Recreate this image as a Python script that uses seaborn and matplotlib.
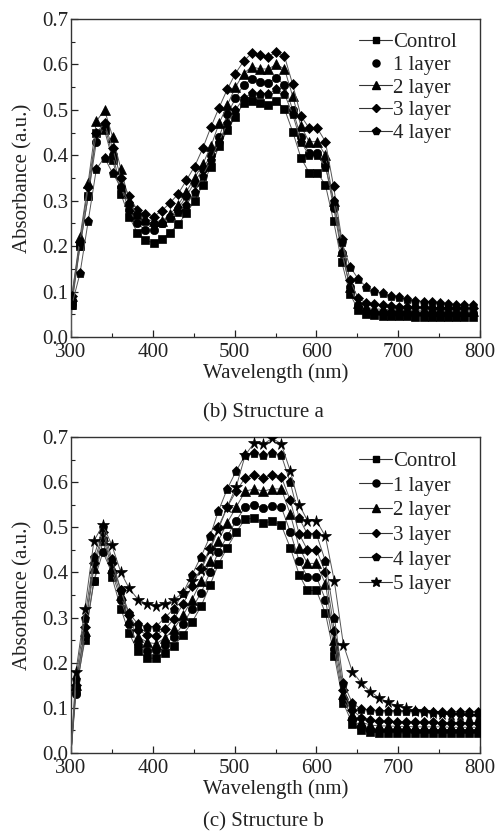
import numpy as np
import pandas as pd
import matplotlib
matplotlib.use("Agg")
import matplotlib.pyplot as plt
from matplotlib.lines import Line2D
import seaborn as sns

# ---------------- data ----------------
# Structure a (panel b) wavelengths (nm); first point is the line origin
wl_a = [300, 301, 311, 321, 331, 341, 351, 361, 371, 381, 391, 401, 411, 421, 431, 441,
        451, 461, 471, 481, 491, 501, 511, 521, 531, 541, 551, 561, 571, 581, 591,
        601, 611, 621, 631, 641, 651, 661, 671, 681, 691, 701, 711, 721, 731, 741,
        751, 761, 771, 781, 791]
a_control = [0.0, 0.07, 0.20, 0.31, 0.45, 0.455, 0.39, 0.315, 0.265, 0.23, 0.213,
             0.207, 0.215, 0.23, 0.248, 0.272, 0.30, 0.335, 0.375, 0.42, 0.455,
             0.485, 0.515, 0.52, 0.515, 0.51, 0.52, 0.502, 0.452, 0.395, 0.362,
             0.362, 0.335, 0.255, 0.165, 0.095, 0.06, 0.05,
             0.048, 0.047, 0.047, 0.046, 0.046, 0.045, 0.045, 0.045, 0.045, 0.045, 0.045, 0.045, 0.045]
a_1layer = [0.0, 0.08, 0.20, 0.31, 0.43, 0.465, 0.40, 0.33, 0.28, 0.25, 0.235,
            0.235, 0.25, 0.265, 0.282, 0.31, 0.34, 0.37, 0.40, 0.44, 0.49,
            0.525, 0.555, 0.567, 0.562, 0.56, 0.57, 0.555, 0.50, 0.44, 0.405,
            0.405, 0.38, 0.285, 0.185, 0.11, 0.07, 0.058,
            0.056, 0.055, 0.055, 0.054, 0.054, 0.053, 0.053, 0.053, 0.052, 0.052, 0.052, 0.052, 0.052]
a_2layer = [0.0, 0.09, 0.22, 0.34, 0.475, 0.50, 0.44, 0.37, 0.30, 0.27, 0.26,
            0.255, 0.255, 0.27, 0.29, 0.32, 0.35, 0.38, 0.42, 0.47, 0.51,
            0.55, 0.58, 0.595, 0.59, 0.59, 0.60, 0.59, 0.53, 0.465, 0.43,
            0.43, 0.40, 0.30, 0.19, 0.11, 0.075, 0.065,
            0.062, 0.061, 0.06, 0.06, 0.06, 0.059, 0.059, 0.059, 0.058, 0.058, 0.058, 0.058, 0.058]
a_3layer = [0.0, 0.09, 0.21, 0.33, 0.45, 0.47, 0.415, 0.35, 0.31, 0.28, 0.27,
            0.265, 0.278, 0.295, 0.315, 0.345, 0.375, 0.415, 0.462, 0.505, 0.545,
            0.58, 0.607, 0.625, 0.62, 0.617, 0.627, 0.618, 0.556, 0.487, 0.46,
            0.46, 0.43, 0.332, 0.215, 0.125, 0.085, 0.075,
            0.072, 0.07, 0.068, 0.067, 0.066, 0.065, 0.065, 0.064, 0.064, 0.064, 0.063, 0.063, 0.063]
a_4layer = [0.0, 0.07, 0.14, 0.255, 0.37, 0.395, 0.36, 0.33, 0.295, 0.27, 0.255,
            0.25, 0.252, 0.262, 0.275, 0.29, 0.32, 0.355, 0.39, 0.43, 0.47,
            0.50, 0.525, 0.537, 0.535, 0.535, 0.545, 0.535, 0.49, 0.43, 0.40,
            0.40, 0.375, 0.30, 0.21, 0.155, 0.128, 0.11,
            0.102, 0.096, 0.091, 0.087, 0.083, 0.08, 0.078, 0.076, 0.074, 0.072, 0.071, 0.07, 0.07]

# Structure b (panel c)
wl_b = [300, 306, 317, 328, 339, 350, 361, 371, 382, 393, 404, 415, 426, 437, 448, 459,
        470, 480, 491, 502, 513, 524, 535, 546, 557, 568, 579, 589, 600, 611, 622,
        633, 644, 655, 666, 677, 688, 698, 709, 720, 731, 742, 753, 764, 775, 786, 797]
b_control = [0.0, 0.14, 0.25, 0.38, 0.47, 0.39, 0.32, 0.265, 0.225, 0.21, 0.21, 0.222,
             0.237, 0.262, 0.29, 0.325, 0.372, 0.418, 0.455, 0.49, 0.518, 0.52, 0.51,
             0.513, 0.505, 0.455, 0.395, 0.36, 0.36, 0.31, 0.215, 0.11, 0.065, 0.05,
             0.046, 0.045, 0.045, 0.045, 0.044, 0.044, 0.044, 0.044, 0.044, 0.044, 0.044, 0.044, 0.044]
b_1layer = [0.0, 0.13, 0.26, 0.38, 0.445, 0.40, 0.34, 0.285, 0.24, 0.225, 0.228, 0.24,
            0.258, 0.285, 0.32, 0.355, 0.40, 0.445, 0.48, 0.515, 0.545, 0.55, 0.543,
            0.548, 0.545, 0.49, 0.425, 0.39, 0.39, 0.34, 0.23, 0.12, 0.075, 0.058,
            0.052, 0.051, 0.05, 0.05, 0.05, 0.049, 0.049, 0.049, 0.049, 0.049, 0.048, 0.048, 0.048]
b_2layer = [0.0, 0.15, 0.27, 0.41, 0.48, 0.41, 0.35, 0.295, 0.258, 0.245, 0.242, 0.255,
            0.275, 0.305, 0.34, 0.38, 0.425, 0.47, 0.51, 0.545, 0.58, 0.585, 0.58,
            0.585, 0.585, 0.53, 0.455, 0.42, 0.42, 0.375, 0.25, 0.13, 0.085, 0.068,
            0.062, 0.06, 0.06, 0.059, 0.059, 0.058, 0.058, 0.058, 0.058, 0.057, 0.057, 0.057, 0.057]
b_3layer = [0.0, 0.15, 0.28, 0.42, 0.49, 0.42, 0.36, 0.305, 0.272, 0.262, 0.26, 0.275,
            0.297, 0.33, 0.37, 0.41, 0.455, 0.50, 0.545, 0.58, 0.61, 0.615, 0.61,
            0.615, 0.612, 0.56, 0.485, 0.45, 0.45, 0.40, 0.27, 0.14, 0.095, 0.078,
            0.072, 0.07, 0.07, 0.069, 0.069, 0.068, 0.068, 0.068, 0.067, 0.067, 0.067, 0.067, 0.067]
b_4layer = [0.0, 0.165, 0.30, 0.435, 0.50, 0.43, 0.36, 0.31, 0.285, 0.28, 0.28, 0.30,
            0.32, 0.355, 0.395, 0.435, 0.48, 0.535, 0.585, 0.625, 0.66, 0.665, 0.66,
            0.665, 0.66, 0.60, 0.52, 0.485, 0.485, 0.425, 0.30, 0.155, 0.11, 0.097,
            0.095, 0.094, 0.093, 0.093, 0.092, 0.092, 0.092, 0.091, 0.091, 0.091, 0.091, 0.091, 0.091]
b_5layer = [0.0, 0.18, 0.32, 0.47, 0.505, 0.46, 0.40, 0.365, 0.34, 0.33, 0.325, 0.33,
            0.34, 0.355, 0.38, 0.405, 0.45, 0.495, 0.545, 0.59, 0.66, 0.687, 0.684,
            0.697, 0.685, 0.625, 0.55, 0.515, 0.515, 0.48, 0.38, 0.24, 0.18, 0.155,
            0.136, 0.122, 0.112, 0.105, 0.099, 0.094, 0.09, 0.088, 0.086, 0.085, 0.084, 0.083, 0.082]

labels_a = ["Control", "1 layer", "2 layer", "3 layer", "4 layer"]
labels_b = ["Control", "1 layer", "2 layer", "3 layer", "4 layer", "5 layer"]
series_a = [a_control, a_1layer, a_2layer, a_3layer, a_4layer]
series_b = [b_control, b_1layer, b_2layer, b_3layer, b_4layer, b_5layer]
x_ticks = [300, 400, 500, 600, 700, 800]
y_ticks = [0.0, 0.1, 0.2, 0.3, 0.4, 0.5, 0.6, 0.7]

markers = ["s", "o", "^", "D", "p", "*"]
msizes = [5.5, 6, 6.5, 5, 6.5, 8.5]

# ---------------- style ----------------
sns.set_theme(style="ticks")
plt.rcParams["font.family"] = ["Liberation Serif", "DejaVu Serif"]

FS = 15
fig = plt.figure(figsize=(5.01, 8.32), dpi=100)
ax_a = fig.add_axes([71 / 501, 1 - 337 / 832, 409 / 501, 318 / 832])
ax_b = fig.add_axes([71 / 501, 1 - 753 / 832, 409 / 501, 316 / 832])


def draw(ax, wl, series, labels, caption, cap_y, legend_lines, lspace, leg_y):
    for i, (vals, lab) in enumerate(zip(series, labels)):
        df = pd.DataFrame({"wl": wl, "abs": vals})
        sns.lineplot(data=df, x="wl", y="abs", ax=ax, color="#555555", lw=0.7,
                     marker=markers[i], markersize=msizes[i], markerfacecolor="black",
                     markeredgecolor="black", markeredgewidth=0.5,
                     markevery=list(range(1, len(wl))), estimator=None,
                     sort=False, legend=False, zorder=3 + i)
    ax.set_xlim(300, 800)
    ax.set_ylim(0.0, 0.7)
    ax.set_xticks(x_ticks)
    ax.set_xticklabels([str(t) for t in x_ticks])
    ax.set_yticks(y_ticks)
    ax.set_yticklabels([f"{t:.1f}" for t in y_ticks])
    ax.set_xticks([350, 450, 550, 650, 750], minor=True)
    ax.set_yticks([0.05, 0.15, 0.25, 0.35, 0.45, 0.55, 0.65], minor=True)
    ax.tick_params(which="major", direction="in", length=5, width=0.9,
                   labelsize=FS, pad=2, colors="#222222")
    ax.tick_params(axis="x", which="major", pad=4)
    ax.tick_params(which="minor", direction="in", length=3, width=0.8, colors="#222222")
    for s in ax.spines.values():
        s.set_linewidth(1.0)
        s.set_color("#333333")
    ax.set_xlabel("Wavelength (nm)", fontsize=FS, labelpad=1.5, color="#222222")
    ax.set_ylabel("Absorbance (a.u.)", fontsize=FS, labelpad=7, color="#222222")
    ax.text(0.47, cap_y, caption, transform=ax.transAxes, ha="center", va="center",
            fontsize=FS, color="#222222")
    handles = []
    for i, lab in enumerate(labels):
        ls = "-" if legend_lines[i] else "none"
        handles.append(Line2D([0], [0], color="#333333", lw=0.8, ls=ls,
                              marker=markers[i], markersize=msizes[i] * 0.85,
                              markerfacecolor="black", markeredgecolor="black"))
    leg = ax.legend(handles, labels, loc="upper right", frameon=False, fontsize=FS,
                    handlelength=1.6, handletextpad=0.05, labelspacing=lspace,
                    borderaxespad=0.3, bbox_to_anchor=(0.98, leg_y))
    for t in leg.get_texts():
        t.set_color("#222222")


draw(ax_a, wl_a, series_a, labels_a, "(b) Structure a", -0.24,
     [True, False, True, True, True], 0.15, 1.003)
draw(ax_b, wl_b, series_b, labels_b, "(c) Structure b", -0.218,
     [True] * 6, 0.24, 1.0)

fig.savefig("out.png", dpi=100, facecolor="white")
